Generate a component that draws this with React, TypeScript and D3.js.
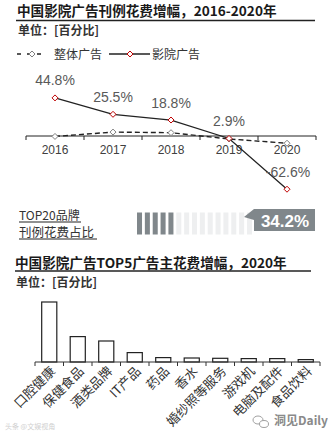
import React from "react";
import * as d3 from "d3";

const years = ["2016", "2017", "2018", "2019", "2020"];
const cinemaValues = [44.8, 25.5, 18.8, -2.9, -62.6];
const cinemaLabels = ["44.8%", "25.5%", "18.8%", "2.9%", "-62.6%"];
const overallValues = [-0.5, 4.6, 3.9, -3.5, -8.5];

const top20Share = 34.2;
const blockCount = 15;

const advertisers = ["口腔健康", "保健食品", "酒类品牌", "IT产品", "药品", "香水", "婚纱照等服务", "游戏机", "电脑及配件", "食品饮料"];
const advertiserValues = [60, 25.4, 21, 9.4, 4.4, 4, 3.7, 3.4, 3.4, 2.4];

const CJK = "'Noto Sans CJK SC', 'Noto Sans', sans-serif";
const NUM = "'Liberation Sans', Arial, sans-serif";
const NARROW = "'Liberation Sans Narrow', 'Liberation Sans', Arial, sans-serif";

function diamond(cx: number, cy: number, r: number) {
  return `M${cx},${cy - r}L${cx + r},${cy}L${cx},${cy + r}L${cx - r},${cy}Z`;
}

export default function App() {
  // line chart
  const x = d3.scaleBand<string>().domain(years).range([26, 316]);
  const y = d3.scaleLinear().domain([-62.6, 44.8]).range([136 + 62.6 * 0.85, 136 - 44.8 * 0.85]);
  const cx = (i: number) => (x(years[i]) as number) + x.bandwidth() / 2;
  const line = d3
    .line<number>()
    .x((_, i) => cx(i))
    .y((d) => y(d));
  const y0 = y(0);
  const lineBounds = d3.range(years.length + 1).map((i) => 26 + i * x.step());

  // progress blocks
  const bx = d3.scaleBand<number>().domain(d3.range(blockCount)).range([137, 252]).paddingInner(0.36);
  const filled = Math.round((top20Share / 100) * blockCount);

  // bar chart
  const xb = d3.scaleBand<string>().domain(advertisers).range([35, 320]).paddingInner(0.47).paddingOuter(0.235);
  const yb = d3.scaleLinear().domain([0, 60]).range([362, 302]);
  const barBounds = d3.range(advertisers.length + 1).map((i) => 35 + i * xb.step());

  return (
    <svg
      width={328}
      height={437}
      style={{ position: "absolute", left: 0, top: 0, background: "#fff" }}
    >
      {/* Title 1 */}
      <text x={17} y={15.5} fontFamily={CJK} fontSize={13.6} fontWeight={700} fill="#1a1a1a">
        中国影院广告刊例花费增幅，2016-2020年
      </text>
      <line x1={16} x2={315} y1={20.5} y2={20.5} stroke="#222" strokeWidth={1.4} />
      <text x={18} y={35} fontFamily={CJK} fontSize={12} fontWeight={700} fill="#333">
        单位：[百分比]
      </text>

      {/* legend */}
      <line x1={17} x2={47} y1={54} y2={54} stroke="#222" strokeWidth={1.3} strokeDasharray="4,6" />
      <path d={diamond(32, 54, 3)} fill="#fff" stroke="#7f7f7f" strokeWidth={1} />
      <text x={54} y={58.5} fontFamily={CJK} fontSize={12} fill="#333">整体广告</text>
      <line x1={109} x2={150} y1={54} y2={54} stroke="#222" strokeWidth={1.3} />
      <path d={diamond(130, 54, 3)} fill="#fff" stroke="#c00000" strokeWidth={1} />
      <text x={152} y={58.5} fontFamily={CJK} fontSize={12} fill="#333">影院广告</text>

      {/* axis */}
      <line x1={26} x2={316} y1={y0} y2={y0} stroke="#222" strokeWidth={1} />
      {lineBounds.map((b, i) => (
        <line key={i} x1={b} x2={b} y1={y0} y2={y0 + 4} stroke="#222" strokeWidth={1} />
      ))}
      {years.map((yr, i) => (
        <text key={yr} x={cx(i)} y={154} textAnchor="middle" fontFamily={NUM} fontSize={12} fill="#404040">
          {yr}
        </text>
      ))}

      {/* lines */}
      <path d={line(overallValues) as string} fill="none" stroke="#222" strokeWidth={1.4} strokeDasharray="5,3" />
      <path d={line(cinemaValues) as string} fill="none" stroke="#222" strokeWidth={1.3} />
      {overallValues.map((v, i) => (
        <path key={"o" + i} d={diamond(cx(i), y(v), 3)} fill="#fff" stroke="#7f7f7f" strokeWidth={1} />
      ))}
      {cinemaValues.map((v, i) => (
        <path key={"c" + i} d={diamond(cx(i), y(v), 3)} fill="#fff" stroke="#c00000" strokeWidth={1} />
      ))}
      {cinemaValues.map((v, i) => (
        <text
          key={"l" + i}
          x={cx(i) + (i === 4 ? 1 : 0)}
          y={y(v) - 12.5}
          textAnchor="middle"
          fontFamily={NARROW}
          fontSize={14}
          fill="#595959"
        >
          {cinemaLabels[i]}
        </text>
      ))}

      {/* TOP20 share */}
      <text x={19} y={219.5} fontFamily={CJK} fontSize={12} fill="#333">TOP20品牌</text>
      <line x1={19} x2={81} y1={222} y2={222} stroke="#222" strokeWidth={1} />
      <text x={19} y={236.5} fontFamily={CJK} fontSize={12.5} fill="#333">刊例花费占比</text>
      <line x1={19} x2={97} y1={239} y2={239} stroke="#222" strokeWidth={1} />
      {d3.range(blockCount).map((i) => (
        <rect
          key={"b" + i}
          x={bx(i)}
          y={212.5}
          width={bx.bandwidth()}
          height={22}
          fill={i < filled ? "#80878b" : "#eeeff0"}
        />
      ))}
      <path d="M254,209H315V231H254V220L244,217Z" fill="#80878b" />
      <text x={285} y={226.5} textAnchor="middle" fontFamily={NUM} fontSize={17} fontWeight={700} fill="#fff">
        {top20Share.toFixed(1)}%
      </text>

      {/* Title 2 */}
      <text x={15} y={267.5} fontFamily={CJK} fontSize={13.6} fontWeight={700} fill="#1a1a1a">
        中国影院广告TOP5广告主花费增幅，2020年
      </text>
      <line x1={15} x2={311} y1={271} y2={271} stroke="#222" strokeWidth={1.4} />
      <text x={16} y={287} fontFamily={CJK} fontSize={12} fontWeight={700} fill="#333">
        单位：[百分比]
      </text>

      {/* bars */}
      {advertisers.map((c, i) => (
        <rect
          key={c}
          x={xb(c)}
          y={yb(advertiserValues[i])}
          width={xb.bandwidth()}
          height={yb(0) - yb(advertiserValues[i])}
          fill="#fff"
          stroke="#222"
          strokeWidth={1.2}
        />
      ))}
      <line x1={35} x2={320} y1={yb(0)} y2={yb(0)} stroke="#333" strokeWidth={1} />
      {barBounds.map((b, i) => (
        <line key={"t" + i} x1={b} x2={b} y1={yb(0)} y2={yb(0) + 4} stroke="#333" strokeWidth={1} />
      ))}
      {advertisers.map((c) => {
        const px = (xb(c) as number) + xb.bandwidth() / 2 + 7;
        const py = 372;
        return (
          <text
            key={"lab" + c}
            x={px}
            y={py}
            transform={`rotate(-45,${px},${py})`}
            textAnchor="end"
            fontFamily={CJK}
            fontSize={13}
            fill="#333"
          >
            {c}
          </text>
        );
      })}

      {/* watermarks */}
      <text x={5} y={429} fontFamily={CJK} fontSize={7} fill="#d0d0d0">头条 @文娱视角</text>
      <g fill="none" stroke="#a0a0a0" strokeWidth={1}>
        <ellipse cx={258} cy={420} rx={5} ry={4} />
        <ellipse cx={264} cy={424} rx={4.5} ry={3.5} fill="#fff" />
      </g>
      <text x={274} y={425} fontFamily={CJK} fontSize={12} fontWeight={700} fill="#8a8a8a">洞见Daily</text>
    </svg>
  );
}
